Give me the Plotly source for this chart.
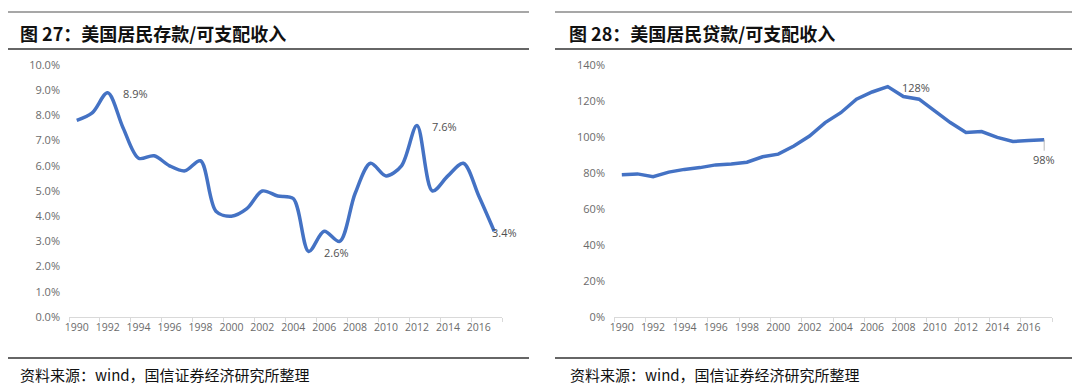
import plotly.graph_objects as go

years = list(range(1990, 2018))
deposit_ratio = [0.078, 0.081, 0.089, 0.075, 0.063, 0.064, 0.060, 0.058, 0.062, 0.042,
                 0.040, 0.043, 0.050, 0.048, 0.047, 0.026, 0.034, 0.030, 0.049, 0.061,
                 0.056, 0.060, 0.076, 0.050, 0.056, 0.061, 0.048, 0.034]
loan_ratio = [0.79, 0.795, 0.78, 0.805, 0.82, 0.83, 0.845, 0.85, 0.86, 0.89,
              0.905, 0.95, 1.005, 1.08, 1.135, 1.21, 1.25, 1.28, 1.225, 1.21,
              1.145, 1.08, 1.025, 1.03, 0.998, 0.975, 0.98, 0.985]
x_tick_labels = [str(y) for y in range(1990, 2018, 2)]
left_title = "图 27：美国居民存款/可支配收入"
right_title = "图 28：美国居民贷款/可支配收入"
source_text = "资料来源：wind，国信证券经济研究所整理"

# the page body has an 8px margin; size the figure so the page fits the window
OFF = 8
W, H = 1080 - OFF, 386 - OFF
BLUE = "#4472C4"
TICK_COLOR = "#6b6b6b"
LABEL_COLOR = "#505050"


def px(x):
    return (x - OFF) / W


def py(y):
    return 1 - (y - OFF) / H


fig = go.Figure()
fig.add_trace(go.Scatter(x=years, y=deposit_ratio, mode="lines",
                         line=dict(color=BLUE, width=3.5, shape="spline", smoothing=0.9),
                         xaxis="x", yaxis="y", hoverinfo="x+y"))
fig.add_trace(go.Scatter(x=years, y=loan_ratio, mode="lines",
                         line=dict(color=BLUE, width=3.5),
                         xaxis="x2", yaxis="y2", hoverinfo="x+y"))

tick_font = dict(family="Open Sans", size=11, color=TICK_COLOR)
xtick_font = dict(family="Open Sans", size=10.5, color=TICK_COLOR)
boundaries = [y - 0.5 for y in range(1990, 2019, 2)]

common_x = dict(range=[1989.5, 2017.5], tickvals=[int(t) for t in x_tick_labels],
                ticktext=x_tick_labels, ticks="", showgrid=False, zeroline=False,
                showline=True, linecolor="#D9D9D9", linewidth=1.3, tickfont=xtick_font,
                fixedrange=True, automargin=False,
                minor=dict(tickvals=boundaries, ticks="outside", ticklen=4,
                           tickcolor="#D9D9D9", showgrid=False))

ydom = [py(317), py(65)]
fig.update_layout(
    width=W, height=H, margin=dict(l=0, r=0, t=0, b=0, pad=0, autoexpand=False),
    paper_bgcolor="white", plot_bgcolor="white", showlegend=False,
    xaxis=dict(domain=[px(69), px(502)], anchor="y", **common_x),
    xaxis2=dict(domain=[px(614), px(1052)], anchor="y2", **common_x),
    yaxis=dict(domain=ydom, anchor="x", range=[0, 0.1], dtick=0.01, tickformat=".1%",
               showgrid=False, zeroline=False, showline=False, ticks="",
               tickfont=tick_font, ticklabelstandoff=8, automargin=False),
    yaxis2=dict(domain=ydom, anchor="x2", range=[0, 1.4], dtick=0.2, tickformat=".0%",
                showgrid=False, zeroline=False, showline=False, ticks="",
                tickfont=tick_font, ticklabelstandoff=8, automargin=False),
)

# horizontal rules
rules = [
    (8, 529, 12, "#8a8a8a", 1.3), (8, 529, 49, "#333333", 1.3), (8, 529, 358, "#333333", 1.3),
    (555, 1078, 12, "#8a8a8a", 1.3), (555, 1078, 49, "#333333", 1.3), (555, 1078, 358, "#333333", 1.3),
]
for x0, x1, y, c, w in rules:
    fig.add_shape(type="line", xref="paper", yref="paper", x0=px(x0), x1=px(x1),
                  y0=py(y), y1=py(y), line=dict(color=c, width=w))

title_font = dict(family="Noto Sans CJK SC", size=18, color="#111111", weight="bold")
fig.add_annotation(xref="paper", yref="paper", x=px(18), y=py(33), xanchor="left",
                   yanchor="middle", text=left_title, showarrow=False, font=title_font)
fig.add_annotation(xref="paper", yref="paper", x=px(567), y=py(33), xanchor="left",
                   yanchor="middle", text=right_title, showarrow=False, font=title_font)

src_font = dict(family="Noto Sans CJK SC", size=15, color="#111111")
fig.add_annotation(xref="paper", yref="paper", x=px(18), y=py(374), xanchor="left",
                   yanchor="middle", text=source_text, showarrow=False, font=src_font)
fig.add_annotation(xref="paper", yref="paper", x=px(568), y=py(374), xanchor="left",
                   yanchor="middle", text=source_text, showarrow=False, font=src_font)

# data labels
lab_font = dict(family="Open Sans", size=11, color=LABEL_COLOR)
for yr, xs in [(1992, 13), (2012, 13), (2005, 13), (2017, -4)]:
    i = years.index(yr)
    v = deposit_ratio[i]
    fig.add_annotation(x=yr, y=v, xref="x", yref="y", text=f"{v*100:.1f}%",
                       showarrow=False, xanchor="left", yanchor="middle",
                       xshift=xs, yshift=-1, font=lab_font)

i_max = loan_ratio.index(max(loan_ratio))
fig.add_annotation(x=years[i_max], y=loan_ratio[i_max], xref="x2", yref="y2",
                   text=f"{loan_ratio[i_max]*100:.0f}%", showarrow=False,
                   xanchor="left", yanchor="middle", xshift=12, yshift=-1, font=lab_font)
fig.add_annotation(x=years[-1], y=loan_ratio[-1], xref="x2", yref="y2",
                   text=f"{loan_ratio[-1]*100:.0f}%", showarrow=True, arrowhead=0,
                   arrowwidth=0.8, arrowcolor="#A6A6A6", ax=0, ay=20,
                   font=lab_font)

fig.write_html("out.html")
